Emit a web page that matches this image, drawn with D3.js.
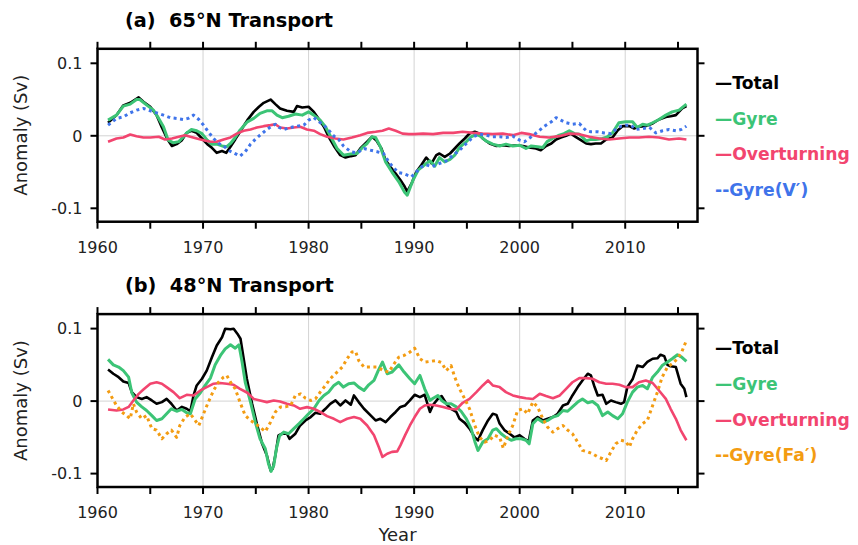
<!DOCTYPE html>
<html>
<head>
<meta charset="utf-8">
<script src="https://cdn.jsdelivr.net/npm/d3@7"></script>
<style>
  body { margin: 0; background: #fff; }
  svg { display: block; }
  text { font-family: "DejaVu Sans", sans-serif; white-space: pre; }
</style>
</head>
<body>
<svg id="chart" width="858" height="545"></svg>
<script>
// ---- Axis ticks and labels ----
const xMajorTicks = [1960, 1970, 1980, 1990, 2000, 2010];
const xAllTicks = [1960, 1965, 1970, 1975, 1980, 1985, 1990, 1995, 2000, 2005, 2010, 2015];
const yTicks = [-0.1, 0, 0.1];
const yTickLabels = ["-0.1", "0", "0.1"];
const panelTitles = ["(a)  65°N Transport", "(b)  48°N Transport"];
const legendNamesA = ["—Total", "—Gyre", "—Overturning", "--Gyre(V′)"];
const legendNamesB = ["—Total", "—Gyre", "—Overturning", "--Gyre(Fa′)"];

// ---- 65°N transport anomalies (Sv): [year, value] ----
const totalA = [[1961.0,0.018],[1961.8,0.0285],[1962.45,0.042],[1963.1,0.0455],[1963.9,0.053],[1964.35,0.047],[1965.0,0.040],[1965.6,0.0285],[1966.1,0.0115],[1966.6,-0.004],[1967.05,-0.014],[1967.5,-0.0115],[1968.0,-0.006],[1968.45,0.004],[1968.9,0.007],[1969.4,0.004],[1969.9,-0.0037],[1970.4,-0.0115],[1970.8,-0.016],[1971.3,-0.0235],[1971.8,-0.021],[1972.2,-0.0235],[1972.6,-0.015],[1973.05,-0.005],[1973.5,0.0055],[1974.2,0.0216],[1974.8,0.033],[1975.3,0.040],[1975.75,0.0455],[1976.4,0.050],[1976.85,0.0437],[1977.3,0.0377],[1977.95,0.0345],[1978.6,0.033],[1978.9,0.041],[1979.4,0.039],[1980.0,0.040],[1980.5,0.033],[1981.0,0.0225],[1981.45,0.0124],[1981.9,-0.0014],[1982.4,-0.014],[1983.0,-0.0267],[1983.5,-0.030],[1984.0,-0.028],[1984.45,-0.0267],[1984.9,-0.0175],[1985.55,-0.008],[1986.0,-0.0014],[1986.4,-0.006],[1986.9,-0.0175],[1987.3,-0.0336],[1987.75,-0.0428],[1988.25,-0.052],[1988.7,-0.061],[1989.1,-0.070],[1989.35,-0.077],[1989.75,-0.066],[1990.2,-0.050],[1990.7,-0.040],[1991.15,-0.030],[1991.65,-0.038],[1992.1,-0.0267],[1992.4,-0.0244],[1992.9,-0.029],[1993.4,-0.0244],[1993.85,-0.0175],[1994.3,-0.0106],[1994.8,-0.0037],[1995.25,0.0032],[1995.75,0.0055],[1996.05,0.004],[1996.5,-0.0037],[1997.15,-0.0106],[1997.8,-0.014],[1998.4,-0.013],[1999.0,-0.014],[1999.7,-0.013],[2000.3,-0.014],[2000.9,-0.016],[2001.55,-0.0175],[2002.0,-0.020],[2002.5,-0.014],[2003.0,-0.0106],[2003.45,-0.005],[2003.9,-0.0023],[2004.4,0.0],[2004.85,0.003],[2005.3,-0.0014],[2005.8,-0.006],[2006.3,-0.0106],[2006.75,-0.0115],[2007.2,-0.0106],[2007.7,-0.0106],[2008.2,-0.005],[2008.8,-0.0023],[2009.3,0.0078],[2009.75,0.0133],[2010.4,0.0133],[2010.85,0.010],[2011.3,0.0124],[2011.95,0.0133],[2012.6,0.017],[2013.2,0.0225],[2013.85,0.026],[2014.3,0.027],[2014.8,0.0285],[2015.4,0.0377],[2015.8,0.041]];

const gyreA = [[1961.0,0.0216],[1961.8,0.0285],[1962.45,0.041],[1963.1,0.0437],[1963.7,0.050],[1964.0,0.050],[1964.7,0.042],[1965.3,0.0354],[1965.8,0.024],[1966.25,0.0124],[1966.7,-0.006],[1967.2,-0.0097],[1967.7,-0.008],[1968.15,-0.0014],[1968.45,0.004],[1968.9,0.0087],[1969.4,0.007],[1969.9,0.003],[1970.4,-0.006],[1970.8,-0.0115],[1971.3,-0.0115],[1971.8,-0.014],[1972.25,-0.015],[1972.6,-0.0106],[1973.05,-0.0023],[1973.5,0.0078],[1974.2,0.0193],[1974.8,0.024],[1975.4,0.031],[1976.05,0.0345],[1976.55,0.0345],[1977.0,0.0285],[1977.5,0.025],[1978.1,0.027],[1978.75,0.030],[1979.4,0.0285],[1980.0,0.033],[1980.5,0.0285],[1981.1,0.0216],[1981.6,0.0124],[1982.1,-0.0014],[1982.7,-0.0175],[1983.3,-0.0267],[1984.0,-0.025],[1984.6,-0.0244],[1985.1,-0.016],[1985.55,-0.0106],[1986.0,-0.0014],[1986.35,-0.0023],[1986.8,-0.015],[1987.3,-0.036],[1987.9,-0.050],[1988.55,-0.0634],[1989.1,-0.078],[1989.35,-0.082],[1989.9,-0.061],[1990.4,-0.047],[1991.0,-0.040],[1991.5,-0.0345],[1991.95,-0.042],[1992.4,-0.030],[1992.9,-0.036],[1993.4,-0.0326],[1993.85,-0.0267],[1994.3,-0.016],[1994.95,-0.008],[1995.4,-0.0014],[1995.9,0.0023],[1996.35,-0.0014],[1996.8,-0.007],[1997.45,-0.0115],[1998.1,-0.014],[1998.7,-0.0115],[1999.35,-0.014],[2000.0,-0.013],[2000.6,-0.0175],[2001.1,-0.014],[2001.7,-0.015],[2002.2,-0.016],[2002.6,-0.008],[2003.1,-0.0037],[2003.75,0.0009],[2004.2,0.003],[2004.7,0.007],[2005.2,0.003],[2005.65,0.0023],[2006.3,-0.007],[2006.75,-0.005],[2007.2,-0.005],[2007.85,-0.0037],[2008.3,-0.0014],[2008.8,0.004],[2009.4,0.018],[2010.05,0.0193],[2010.7,0.0193],[2011.15,0.0115],[2011.65,0.016],[2012.1,0.0147],[2012.6,0.018],[2013.2,0.0225],[2013.85,0.0285],[2014.45,0.033],[2015.1,0.0354],[2015.8,0.0437]];

const overA = [[1961.0,-0.0083],[1961.8,-0.0037],[1962.45,-0.0023],[1963.1,0.0018],[1963.7,-0.0005],[1964.35,-0.0023],[1965.0,-0.0023],[1965.8,-0.0014],[1966.4,-0.005],[1967.05,-0.0037],[1967.7,-0.0014],[1968.3,0.0009],[1968.8,-0.0014],[1969.4,-0.0037],[1970.05,-0.006],[1970.7,-0.0083],[1971.3,-0.0083],[1971.95,-0.005],[1972.6,-0.0023],[1973.2,0.003],[1973.85,0.007],[1974.5,0.0087],[1975.1,0.0115],[1975.75,0.0133],[1976.4,0.0147],[1976.85,0.016],[1977.3,0.0115],[1977.95,0.010],[1978.6,0.0115],[1979.2,0.0124],[1979.85,0.0087],[1980.5,0.007],[1981.1,0.0023],[1981.75,-0.0014],[1982.55,-0.0037],[1983.3,-0.005],[1984.1,-0.0023],[1984.9,0.0009],[1985.55,0.004],[1986.35,0.0055],[1987.0,0.007],[1987.6,0.010],[1988.25,0.007],[1988.9,0.003],[1989.5,0.0023],[1990.0,0.0023],[1990.85,0.003],[1991.8,0.0023],[1992.75,0.004],[1993.7,0.004],[1994.6,0.0055],[1995.6,0.004],[1996.5,0.003],[1997.45,0.0023],[1998.4,0.003],[1999.35,0.0009],[2000.15,0.004],[2000.9,0.0023],[2001.9,-0.0014],[2002.8,-0.0023],[2003.75,-0.0005],[2004.7,0.003],[2005.65,0.0023],[2006.6,-0.0014],[2007.55,-0.0037],[2008.5,-0.005],[2009.4,-0.0037],[2010.4,-0.0023],[2011.3,-0.0023],[2012.25,-0.0014],[2013.2,-0.0023],[2014.15,-0.005],[2015.1,-0.0037],[2015.8,-0.005]];

const gyreVA = [[1961.0,0.0147],[1961.8,0.024],[1962.45,0.026],[1963.1,0.0317],[1963.7,0.0354],[1964.35,0.0377],[1965.0,0.0345],[1965.6,0.0317],[1966.25,0.0285],[1966.9,0.025],[1967.5,0.024],[1968.15,0.0225],[1968.6,0.024],[1969.1,0.0285],[1969.6,0.0225],[1970.05,0.0147],[1970.5,0.0055],[1971.0,-0.0037],[1971.5,-0.0106],[1971.95,-0.014],[1972.4,-0.020],[1972.9,-0.0235],[1973.5,-0.028],[1974.0,-0.022],[1974.5,-0.0115],[1974.95,-0.005],[1975.4,0.0009],[1975.9,0.007],[1976.4,0.0124],[1976.85,0.016],[1977.2,0.0115],[1977.65,0.0087],[1978.3,0.0115],[1978.9,0.0133],[1979.55,0.0147],[1980.0,0.0216],[1980.5,0.025],[1981.0,0.0193],[1981.45,0.0147],[1981.9,0.0078],[1982.4,-0.0005],[1982.85,-0.005],[1983.3,-0.014],[1984.0,-0.022],[1984.6,-0.0235],[1985.25,-0.0175],[1985.9,-0.020],[1986.5,-0.022],[1987.1,-0.0244],[1987.6,-0.036],[1988.1,-0.045],[1988.55,-0.051],[1988.95,-0.052],[1989.3,-0.054],[1989.75,-0.0566],[1990.2,-0.050],[1990.7,-0.0428],[1991.15,-0.040],[1991.65,-0.0428],[1992.1,-0.040],[1992.6,-0.037],[1993.05,-0.0345],[1993.7,-0.0267],[1994.3,-0.020],[1994.95,-0.0106],[1995.6,-0.0014],[1996.2,0.0023],[1996.85,0.0009],[1997.45,-0.0014],[1998.1,-0.0014],[1998.7,-0.0023],[1999.35,-0.0005],[2000.0,-0.006],[2000.45,-0.0083],[2001.1,-0.0014],[2001.7,0.0055],[2002.35,0.0133],[2003.0,0.0193],[2003.45,0.025],[2003.9,0.0216],[2004.4,0.018],[2005.0,0.016],[2005.65,0.017],[2006.3,0.007],[2006.75,0.0055],[2007.4,0.0055],[2008.0,0.004],[2008.65,0.003],[2009.1,0.0087],[2009.6,0.0133],[2010.05,0.0147],[2010.55,0.0147],[2011.0,0.0087],[2011.65,0.010],[2012.3,0.0115],[2012.9,0.004],[2013.55,0.007],[2014.15,0.0087],[2014.8,0.007],[2015.3,0.0087],[2015.8,0.0133]];

// ---- 48°N transport anomalies (Sv): [year, value] ----
const totalB = [[1961.0,0.0437],[1961.5,0.0377],[1962.0,0.033],[1962.45,0.027],[1962.95,0.025],[1963.25,0.0124],[1963.7,0.0055],[1964.2,0.003],[1964.65,0.0055],[1965.15,0.0009],[1965.6,-0.0037],[1966.1,-0.0014],[1966.55,0.003],[1967.0,-0.0037],[1967.5,-0.013],[1968.0,-0.008],[1968.45,-0.0106],[1968.8,-0.014],[1969.1,0.0078],[1969.4,0.0216],[1969.9,0.0308],[1970.35,0.042],[1970.85,0.0607],[1971.3,0.0768],[1971.8,0.088],[1972.1,0.0998],[1972.6,0.099],[1972.9,0.0998],[1973.25,0.093],[1973.55,0.086],[1973.8,0.063],[1974.15,0.0308],[1974.65,-0.0037],[1975.1,-0.0313],[1975.6,-0.0589],[1976.05,-0.075],[1976.4,-0.0956],[1976.6,-0.0933],[1976.85,-0.075],[1977.15,-0.0474],[1977.5,-0.045],[1977.95,-0.045],[1978.2,-0.052],[1978.75,-0.045],[1979.2,-0.0336],[1979.7,-0.0267],[1980.2,-0.022],[1980.65,-0.016],[1981.1,-0.0175],[1981.6,-0.0106],[1982.05,-0.0037],[1982.55,0.0009],[1983.0,-0.006],[1983.5,0.0009],[1984.0,-0.005],[1984.3,0.0078],[1984.75,-0.0014],[1985.25,-0.0106],[1985.9,-0.020],[1986.35,-0.0267],[1986.8,-0.0244],[1987.3,-0.029],[1987.75,-0.022],[1988.25,-0.015],[1988.7,-0.008],[1989.15,-0.006],[1989.6,0.0009],[1990.05,0.0087],[1990.55,0.0055],[1991.0,0.0087],[1991.5,-0.015],[1991.8,-0.005],[1992.25,0.003],[1992.6,0.007],[1993.05,-0.0037],[1993.5,-0.0106],[1994.0,-0.015],[1994.3,-0.0244],[1994.8,-0.030],[1995.25,-0.038],[1995.75,-0.050],[1996.05,-0.054],[1996.5,-0.040],[1997.0,-0.0267],[1997.45,-0.0175],[1997.8,-0.019],[1998.1,-0.031],[1998.55,-0.040],[1999.05,-0.045],[1999.5,-0.050],[2000.0,-0.047],[2000.45,-0.052],[2000.85,-0.0556],[2001.25,-0.0267],[2001.7,-0.022],[2002.2,-0.0267],[2002.65,-0.0244],[2003.15,-0.022],[2003.6,-0.0175],[2004.1,-0.006],[2004.55,-0.0037],[2005.0,0.0078],[2005.5,0.0193],[2005.95,0.0285],[2006.45,0.0377],[2006.75,0.0354],[2007.05,0.0216],[2007.4,0.0078],[2007.85,0.0087],[2008.2,-0.0037],[2008.65,0.0009],[2009.1,-0.0014],[2009.6,-0.0037],[2009.9,-0.0014],[2010.2,0.0193],[2010.7,0.030],[2011.15,0.049],[2011.65,0.047],[2012.1,0.054],[2012.6,0.0584],[2013.05,0.059],[2013.35,0.064],[2013.7,0.062],[2014.0,0.050],[2014.3,0.048],[2014.8,0.047],[2015.25,0.024],[2015.6,0.017],[2015.8,0.0055]];

const gyreB = [[1961.0,0.0575],[1961.5,0.050],[1962.0,0.047],[1962.45,0.042],[1962.95,0.033],[1963.25,0.0115],[1963.7,-0.0014],[1964.2,-0.008],[1964.65,-0.013],[1965.15,-0.020],[1965.6,-0.0267],[1966.1,-0.0244],[1966.55,-0.0175],[1967.0,-0.0106],[1967.5,-0.014],[1968.0,-0.0115],[1968.45,-0.016],[1968.8,-0.0175],[1969.25,0.003],[1969.75,0.0115],[1970.2,0.0216],[1970.7,0.0317],[1971.15,0.050],[1971.65,0.063],[1972.1,0.072],[1972.6,0.0777],[1973.05,0.073],[1973.4,0.0777],[1973.7,0.0538],[1974.0,0.026],[1974.5,-0.0014],[1974.95,-0.029],[1975.4,-0.052],[1975.9,-0.0657],[1976.2,-0.0864],[1976.45,-0.097],[1976.7,-0.0887],[1976.95,-0.0657],[1977.25,-0.048],[1977.65,-0.0428],[1978.1,-0.045],[1978.6,-0.038],[1979.1,-0.031],[1979.55,-0.0244],[1980.0,-0.0175],[1980.5,-0.0106],[1981.0,0.0009],[1981.45,0.0078],[1981.9,0.0124],[1982.4,0.0216],[1982.85,0.026],[1983.3,0.0193],[1983.8,0.024],[1984.3,0.025],[1984.75,0.0193],[1985.25,0.0147],[1985.7,0.0225],[1986.2,0.0285],[1986.6,0.042],[1987.0,0.0538],[1987.45,0.0377],[1987.9,0.040],[1988.55,0.050],[1989.05,0.040],[1989.6,0.0308],[1990.05,0.024],[1990.55,0.0354],[1991.0,0.017],[1991.5,0.0009],[1991.8,0.004],[1992.25,0.0078],[1992.6,0.0009],[1993.05,-0.0037],[1993.5,-0.0037],[1994.0,-0.008],[1994.45,-0.014],[1994.95,-0.0244],[1995.4,-0.038],[1995.75,-0.0556],[1996.05,-0.068],[1996.5,-0.0566],[1997.0,-0.052],[1997.45,-0.040],[1997.8,-0.038],[1998.25,-0.045],[1998.7,-0.050],[1999.2,-0.054],[1999.65,-0.052],[2000.15,-0.052],[2000.6,-0.054],[2000.9,-0.0589],[2001.25,-0.0313],[2001.7,-0.0244],[2002.2,-0.029],[2002.65,-0.0267],[2003.15,-0.022],[2003.6,-0.020],[2004.1,-0.013],[2004.55,-0.014],[2005.0,-0.008],[2005.5,-0.0014],[2005.95,0.003],[2006.45,-0.0023],[2006.9,-0.0005],[2007.4,-0.006],[2007.85,-0.020],[2008.35,-0.015],[2008.8,-0.020],[2009.3,-0.0244],[2009.75,-0.0175],[2010.2,-0.0014],[2010.7,0.0124],[2011.15,0.0193],[2011.65,0.0216],[2012.1,0.017],[2012.6,0.033],[2013.05,0.040],[2013.5,0.049],[2014.0,0.0538],[2014.45,0.0584],[2014.95,0.064],[2015.35,0.0607],[2015.8,0.0547]];

const overB = [[1961.0,-0.0115],[1961.8,-0.013],[1962.45,-0.0115],[1962.95,-0.008],[1963.4,0.0009],[1963.9,0.010],[1964.35,0.016],[1965.0,0.024],[1965.6,0.026],[1966.1,0.024],[1966.55,0.0193],[1967.2,0.0124],[1967.8,0.004],[1968.45,0.0087],[1969.1,0.0078],[1969.75,0.0147],[1970.35,0.0193],[1971.0,0.024],[1971.6,0.025],[1972.25,0.024],[1972.9,0.0225],[1973.5,0.017],[1974.2,0.0115],[1974.8,0.003],[1975.4,0.0009],[1976.05,-0.0014],[1976.7,0.0009],[1977.3,-0.0005],[1977.95,-0.0037],[1978.6,-0.006],[1979.2,-0.0106],[1979.85,-0.0083],[1980.5,-0.0106],[1981.1,-0.015],[1981.75,-0.0207],[1982.4,-0.0244],[1983.0,-0.029],[1983.65,-0.0244],[1984.3,-0.022],[1984.9,-0.0244],[1985.55,-0.0336],[1986.2,-0.047],[1986.65,-0.0634],[1987.0,-0.077],[1987.45,-0.0726],[1987.9,-0.070],[1988.4,-0.0694],[1988.7,-0.061],[1989.15,-0.047],[1989.6,-0.0336],[1990.05,-0.022],[1990.55,-0.0106],[1991.0,-0.006],[1991.5,-0.005],[1992.1,-0.006],[1992.75,-0.008],[1993.35,-0.0106],[1994.0,-0.0115],[1994.6,-0.0023],[1995.25,0.003],[1995.9,0.0124],[1996.5,0.0216],[1997.0,0.0285],[1997.45,0.0216],[1998.1,0.0193],[1998.7,0.0124],[1999.35,0.0078],[2000.0,0.0055],[2000.6,0.004],[2001.25,0.003],[2001.9,0.010],[2002.5,0.007],[2003.15,0.004],[2003.8,0.0078],[2004.4,0.017],[2005.0,0.026],[2005.65,0.0317],[2006.3,0.0317],[2006.9,0.0308],[2007.55,0.026],[2008.2,0.024],[2008.8,0.024],[2009.45,0.0225],[2010.05,0.0193],[2010.7,0.0193],[2011.3,0.026],[2011.95,0.0285],[2012.6,0.025],[2013.2,0.0147],[2013.85,0.003],[2014.3,-0.0106],[2014.8,-0.0244],[2015.25,-0.040],[2015.8,-0.054]];

const gyreFaB = [[1961.0,0.0147],[1961.35,0.0055],[1961.8,-0.006],[1962.3,-0.015],[1962.75,-0.020],[1963.1,-0.0244],[1963.4,-0.0037],[1963.7,-0.015],[1964.2,-0.0244],[1964.65,-0.020],[1965.15,-0.038],[1965.6,-0.040],[1966.1,-0.052],[1966.55,-0.045],[1967.0,-0.040],[1967.5,-0.050],[1967.8,-0.0336],[1968.3,-0.022],[1968.8,-0.0175],[1969.25,-0.0267],[1969.6,-0.0336],[1970.05,-0.0175],[1970.5,-0.0014],[1971.0,0.0147],[1971.45,0.026],[1971.95,0.033],[1972.25,0.0354],[1972.6,0.026],[1973.05,0.017],[1973.5,-0.0014],[1974.0,-0.020],[1974.5,-0.0267],[1974.95,-0.031],[1975.4,-0.036],[1975.9,-0.042],[1976.4,-0.029],[1976.85,-0.015],[1977.35,-0.008],[1977.8,-0.008],[1978.3,-0.006],[1978.75,0.0078],[1979.25,0.010],[1979.7,0.004],[1980.2,0.0009],[1980.65,0.003],[1981.1,0.0124],[1981.6,0.0216],[1982.05,0.0308],[1982.7,0.040],[1983.2,0.047],[1983.65,0.0584],[1984.1,0.0676],[1984.45,0.0685],[1984.75,0.056],[1985.25,0.047],[1985.9,0.047],[1986.5,0.047],[1987.1,0.042],[1987.6,0.040],[1988.1,0.0515],[1988.55,0.0607],[1989.05,0.063],[1989.6,0.0676],[1990.05,0.073],[1990.55,0.0584],[1991.0,0.0538],[1991.5,0.0547],[1992.1,0.056],[1992.6,0.053],[1993.05,0.042],[1993.5,0.049],[1993.85,0.033],[1994.3,0.017],[1994.8,0.003],[1995.25,-0.0106],[1995.75,-0.0336],[1996.2,-0.050],[1996.7,-0.0566],[1997.15,-0.054],[1997.6,-0.047],[1998.1,-0.050],[1998.45,-0.065],[1998.9,-0.047],[1999.35,-0.0336],[1999.8,-0.013],[2000.3,-0.0106],[2000.75,-0.0175],[2001.25,-0.0014],[2001.7,-0.008],[2002.2,-0.0244],[2002.65,-0.036],[2003.15,-0.0428],[2003.6,-0.038],[2004.1,-0.0336],[2004.55,-0.040],[2005.0,-0.045],[2005.5,-0.0566],[2005.95,-0.068],[2006.45,-0.070],[2006.9,-0.0726],[2007.4,-0.077],[2007.85,-0.0795],[2008.2,-0.082],[2008.65,-0.070],[2009.1,-0.0589],[2009.6,-0.054],[2010.05,-0.0556],[2010.4,-0.0634],[2010.7,-0.052],[2011.15,-0.040],[2011.65,-0.031],[2012.1,-0.0267],[2012.6,-0.006],[2013.05,0.0124],[2013.5,0.033],[2014.0,0.047],[2014.45,0.0515],[2014.95,0.0584],[2015.35,0.0676],[2015.8,0.0837]];

// ---- Colours ----
const cTotal = "#000000", cGyre = "#3cc476", cOver = "#f2456f", cBlue = "#3f74ea", cOrange = "#f39c12";

const svg = d3.select("#chart");

const x = d3.scaleLinear().domain([1960, 2016.85]).range([97.5, 697.5]);

function drawPanel(offset, title, series, legendNames) {
  // y: 0.1 Sv spans 72.5 px
  const y = d3.scaleLinear().domain([-0.1, 0.1]).range([208.3 + offset, 63.3 + offset]);
  const top = y(0.12), bottom = y(-0.1185);
  const left = x.range()[0], right = x.range()[1];
  const g = svg.append("g");

  // grid lines
  g.selectAll(".gx").data(xMajorTicks.slice(1)).join("line")
    .attr("x1", d => x(d)).attr("x2", d => x(d))
    .attr("y1", top).attr("y2", bottom)
    .attr("stroke", "#d3d3d3").attr("stroke-width", 1);
  g.append("line")
    .attr("x1", left).attr("x2", right).attr("y1", y(0)).attr("y2", y(0))
    .attr("stroke", "#d3d3d3").attr("stroke-width", 1);

  // series
  const line = d3.line().x(d => x(d[0])).y(d => y(d[1])).curve(d3.curveLinear);
  series.forEach(s => {
    g.append("path").datum(s.data)
      .attr("d", line)
      .attr("fill", "none")
      .attr("stroke", s.color)
      .attr("stroke-width", s.width)
      .attr("stroke-linejoin", "round")
      .attr("stroke-dasharray", s.dash || null);
  });

  // frame
  g.append("rect")
    .attr("x", left).attr("y", top)
    .attr("width", right - left).attr("height", bottom - top)
    .attr("fill", "none").attr("stroke", "#000").attr("stroke-width", 2.5);

  // ticks: bottom/top on 5-year steps, left/right on y ticks
  const tk = 7;
  g.selectAll(".tb").data(xAllTicks).join("line")
    .attr("x1", d => x(d)).attr("x2", d => x(d))
    .attr("y1", bottom).attr("y2", bottom + tk)
    .attr("stroke", "#000").attr("stroke-width", 2);
  g.selectAll(".tt").data(xAllTicks).join("line")
    .attr("x1", d => x(d)).attr("x2", d => x(d))
    .attr("y1", top).attr("y2", top - tk)
    .attr("stroke", "#000").attr("stroke-width", 2);
  g.selectAll(".tl").data(yTicks).join("line")
    .attr("x1", left - tk).attr("x2", left)
    .attr("y1", d => y(d)).attr("y2", d => y(d))
    .attr("stroke", "#000").attr("stroke-width", 2);
  g.selectAll(".tr").data(yTicks).join("line")
    .attr("x1", right).attr("x2", right + tk)
    .attr("y1", d => y(d)).attr("y2", d => y(d))
    .attr("stroke", "#000").attr("stroke-width", 2);

  // tick labels
  g.selectAll(".xl").data(xMajorTicks).join("text")
    .attr("x", d => x(d)).attr("y", bottom + 31)
    .attr("text-anchor", "middle").attr("font-size", 16).attr("fill", "#222")
    .text(d => d);
  g.selectAll(".yl").data(yTicks).join("text")
    .attr("x", left - 15).attr("y", d => y(d)).attr("dy", "0.36em")
    .attr("text-anchor", "end").attr("font-size", 16).attr("fill", "#222")
    .text((d, i) => yTickLabels[i]);

  // axis label
  g.append("text")
    .attr("transform", `translate(27,${(top + bottom) / 2}) rotate(-90)`)
    .attr("text-anchor", "middle").attr("font-size", 18).attr("fill", "#222")
    .text("Anomaly (Sv)");

  // title
  g.append("text")
    .attr("x", 125).attr("y", 26.7 + offset)
    .attr("font-size", 19.3).attr("font-weight", "bold").attr("fill", "#000")
    .text(title);

  // legend
  g.selectAll(".lg").data(series).join("text")
    .attr("x", 715).attr("y", (d, i) => 89 + offset + i * 35.7)
    .attr("font-size", 17.2).attr("font-weight", "bold")
    .attr("fill", d => d.color)
    .text((d, i) => legendNames[i]);
}

drawPanel(0, panelTitles[0], [
  { data: totalA, color: cTotal, width: 2.6 },
  { data: gyreA, color: cGyre, width: 3 },
  { data: overA, color: cOver, width: 2.6 },
  { data: gyreVA, color: cBlue, width: 3, dash: "3,3.5" }
], legendNamesA);

drawPanel(265.3, panelTitles[1], [
  { data: totalB, color: cTotal, width: 2.6 },
  { data: gyreB, color: cGyre, width: 3 },
  { data: overB, color: cOver, width: 2.6 },
  { data: gyreFaB, color: cOrange, width: 3, dash: "3,3.5" }
], legendNamesB);

// shared x-axis title
svg.append("text")
  .attr("x", (x.range()[0] + x.range()[1]) / 2).attr("y", 541)
  .attr("text-anchor", "middle").attr("font-size", 18).attr("fill", "#222")
  .text("Year");
</script>
</body>
</html>
